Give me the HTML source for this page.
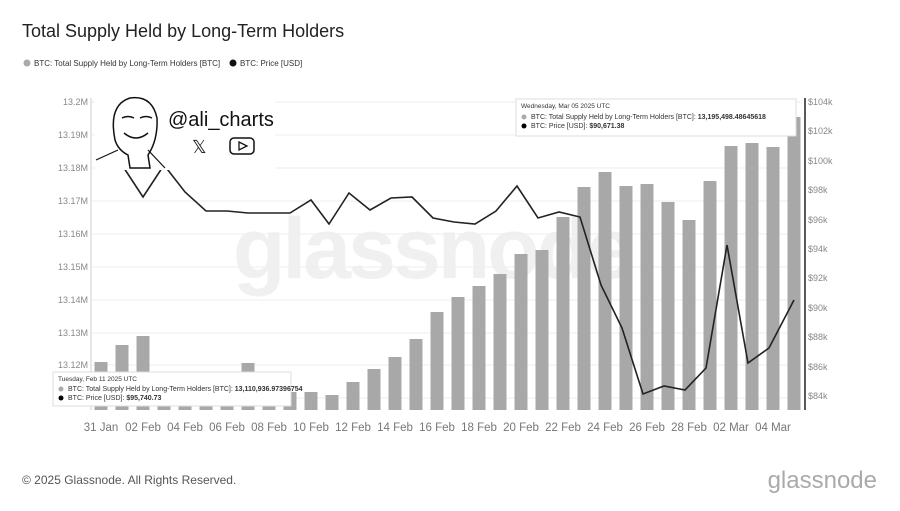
<!DOCTYPE html>
<html><head><meta charset="utf-8"><style>
body{margin:0;width:900px;height:506px;background:#fff;overflow:hidden;font-family:"Liberation Sans",sans-serif}
</style></head><body>
<svg width="900" height="506" xmlns="http://www.w3.org/2000/svg" font-family="Liberation Sans, sans-serif">
<text x="22" y="37" font-size="18" fill="#222">Total Supply Held by Long-Term Holders</text>
<circle cx="27" cy="63" r="3.5" fill="#aaa"/><text x="34" y="66" font-size="8" fill="#333">BTC: Total Supply Held by Long-Term Holders [BTC]</text>
<circle cx="233" cy="63" r="3.5" fill="#111"/><text x="240" y="66" font-size="8" fill="#333">BTC: Price [USD]</text>
<text x="432" y="278" font-size="86" fill="#f0f0f0" text-anchor="middle" font-weight="bold" letter-spacing="-3">glassnode</text>
<g stroke="#eee" stroke-width="1">
<line x1="92" x2="800" y1="102" y2="102"/><line x1="92" x2="800" y1="135" y2="135"/><line x1="92" x2="800" y1="168" y2="168"/><line x1="92" x2="800" y1="201" y2="201"/><line x1="92" x2="800" y1="234" y2="234"/><line x1="92" x2="800" y1="267" y2="267"/><line x1="92" x2="800" y1="300" y2="300"/><line x1="92" x2="800" y1="333" y2="333"/><line x1="92" x2="800" y1="365" y2="365"/><line x1="92" x2="800" y1="398" y2="398"/>
</g>
<line x1="91" y1="98" x2="91" y2="410" stroke="#ccc"/>
<line x1="805" y1="98" x2="805" y2="410" stroke="#222" stroke-width="1.5"/>
<g font-size="9" fill="#888" text-anchor="end">
<text x="88" y="105">13.2M</text><text x="88" y="138">13.19M</text><text x="88" y="171">13.18M</text><text x="88" y="204">13.17M</text><text x="88" y="237">13.16M</text><text x="88" y="270">13.15M</text><text x="88" y="303">13.14M</text><text x="88" y="336">13.13M</text><text x="88" y="368">13.12M</text>
</g>
<g font-size="9" fill="#888">
<text x="808" y="105">$104k</text><text x="808" y="134">$102k</text><text x="808" y="164">$100k</text><text x="808" y="193">$98k</text><text x="808" y="223">$96k</text><text x="808" y="252">$94k</text><text x="808" y="281">$92k</text><text x="808" y="311">$90k</text><text x="808" y="340">$88k</text><text x="808" y="370">$86k</text><text x="808" y="399">$84k</text>
</g>
<g fill="#a8a8a8" id="bars"></g>
<polyline fill="none" stroke="#222" stroke-width="1.6" points="101,160 122,165 143,197 164,165 185,192 206,211 227,211 248,213 269,213 290,213 311,200 329,224 349,193 370,210 391,198 412,197 433,218 454,222 475,224 496,211 517,186 538,218 559,212 580,217 601,285 622,328 643,394 664,386 685,390 706,368 727,245 748,363 769,348 794,300"/>
<g font-size="11.5" fill="#777" text-anchor="middle" id="xl"></g>
<g>
<rect x="53" y="372" width="238" height="34" fill="#fff" stroke="#ddd"/>
<text x="58" y="381" font-size="6.5" fill="#333">Tuesday, Feb 11 2025 UTC</text>
<circle cx="61" cy="389" r="2.5" fill="#aaa"/><text x="68" y="391" font-size="7" fill="#333">BTC: Total Supply Held by Long-Term Holders [BTC]: <tspan font-weight="bold">13,110,936.97396754</tspan></text>
<circle cx="61" cy="398" r="2.5" fill="#000"/><text x="68" y="400" font-size="7" fill="#333">BTC: Price [USD]: <tspan font-weight="bold">$95,740.73</tspan></text>
</g>
<g>
<rect x="516" y="99" width="280" height="37" fill="#fff" stroke="#ddd"/>
<text x="521" y="108" font-size="6.5" fill="#333">Wednesday, Mar 05 2025 UTC</text>
<circle cx="524" cy="117" r="2.5" fill="#aaa"/><text x="531" y="119" font-size="7" fill="#333">BTC: Total Supply Held by Long-Term Holders [BTC]: <tspan font-weight="bold">13,195,498.48645618</tspan></text>
<circle cx="524" cy="126" r="2.5" fill="#000"/><text x="531" y="128" font-size="7" fill="#333">BTC: Price [USD]: <tspan font-weight="bold">$90,671.38</tspan></text>
</g>
<g>
<rect x="95" y="96" width="180" height="74" fill="#fff"/>
<path d="M115 140 Q108 105 130 98 Q152 95 157 118 Q158 140 148 155 L150 168 L130 168 L128 155 Q118 150 115 140Z" fill="#fff" stroke="#111" stroke-width="1.5"/>
<path d="M122 118 q6 -3 12 0 M140 118 q6 -3 12 0 M124 133 q12 10 24 0" fill="none" stroke="#111" stroke-width="1.5"/>
<path d="M96 160 L118 150 M148 150 L165 168" stroke="#111" stroke-width="1.2"/>
<text x="168" y="126" font-size="20" fill="#111">@ali_charts</text>
<text x="192" y="153" font-size="18" fill="#111">𝕏</text>
<rect x="230" y="138" width="24" height="16" rx="4" fill="none" stroke="#111" stroke-width="1.5"/>
<path d="M239 142 L247 146 L239 150Z" fill="none" stroke="#111" stroke-width="1.3"/>
</g>
<text x="22" y="484" font-size="12" fill="#555">© 2025 Glassnode. All Rights Reserved.</text>
<text x="877" y="488" font-size="24" fill="#aaa" text-anchor="end">glassnode</text>
</svg>
<script>
var tops=[362,345,336,392,392,392,392,363,392,392,392,395,382,369,357,339,312,297,286,274,254,250,217,187,172,186,184,202,220,181,146,143,147,117];
var s="";for(var i=0;i<tops.length;i++){var x=101+21*i;s+='<rect x="'+(x-6.5)+'" y="'+tops[i]+'" width="13" height="'+(410-tops[i])+'"/>';}
document.getElementById("bars").innerHTML=s;
var d=["31 Jan","02 Feb","04 Feb","06 Feb","08 Feb","10 Feb","12 Feb","14 Feb","16 Feb","18 Feb","20 Feb","22 Feb","24 Feb","26 Feb","28 Feb","02 Mar","04 Mar"];
var t="";for(var i=0;i<d.length;i++){t+='<text x="'+(101+42*i)+'" y="431">'+d[i]+'</text>';}
document.getElementById("xl").innerHTML=t;
</script>
</body></html>
